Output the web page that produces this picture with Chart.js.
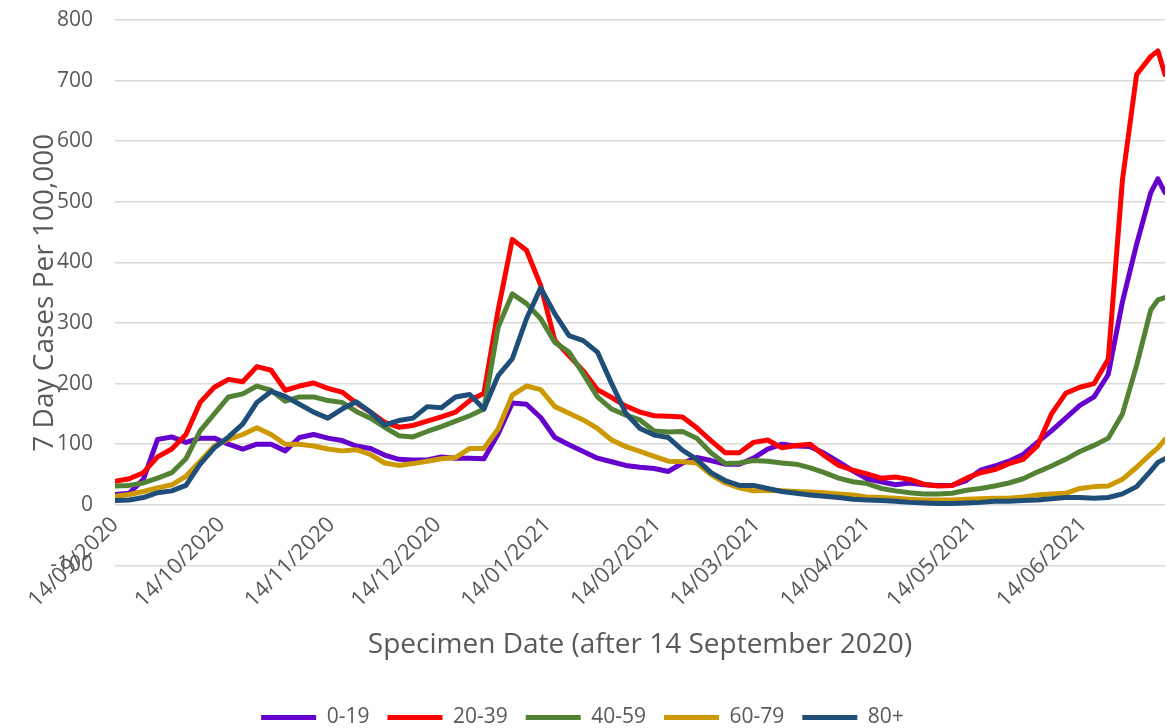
<!DOCTYPE html>
<html>
<head>
<meta charset="utf-8">
<script src="https://cdn.jsdelivr.net/npm/chart.js@4.4.1/dist/chart.umd.min.js"></script>
<style>
  html, body { margin: 0; padding: 0; background: #fff; }
  #wrap { width: 1167px; height: 728px; }
</style>
</head>
<body>
<div id="wrap"><canvas id="casesChart"></canvas></div>
<script>
const days = [0, 4, 8, 12, 16, 20, 24, 28, 32, 36,
  40, 44, 48, 52, 56, 60, 64, 68, 72, 76,
  80, 84, 88, 92, 96, 100, 104, 108, 112, 116,
  120, 124, 128, 132, 136, 140, 144, 148, 152, 156,
  160, 164, 168, 172, 176, 180, 184, 188, 192, 196,
  200, 204, 208, 212, 216, 220, 224, 228, 232, 236,
  240, 244, 248, 252, 256, 260, 264, 268, 272, 276,
  280, 284, 288, 292, 294, 296];

const tickDays = [0, 30, 61, 91, 122, 153, 181, 212, 242, 273];
const tickLabels = ['14/09/2020', '14/10/2020', '14/11/2020', '14/12/2020', '14/01/2021',
  '14/02/2021', '14/03/2021', '14/04/2021', '14/05/2021', '14/06/2021'];

const age0to19 = [17, 19, 42, 108, 112, 103, 110, 110, 100, 92,
  100, 100, 89, 111, 116, 110, 106, 97, 93, 82,
  75, 74, 74, 79, 77, 77, 76, 117, 168, 166,
  144, 111, 99, 88, 77, 71, 65, 62, 60, 55,
  69, 78, 73, 67, 67, 77, 92, 100, 97, 96,
  85, 71, 56, 43, 38, 33, 36, 33, 32, 32,
  40, 57, 64, 72, 83, 103, 122, 143, 164, 178,
  215, 335, 430, 515, 538, 515];

const age20to39 = [39, 43, 53, 79, 92, 116, 169, 194, 207, 203,
  228, 222, 189, 196, 201, 192, 186, 168, 153, 136,
  128, 131, 138, 145, 153, 172, 184, 321, 438, 420,
  362, 271, 246, 221, 190, 177, 163, 153, 147, 146,
  145, 127, 106, 86, 86, 103, 107, 94, 98, 100,
  81, 65, 57, 51, 44, 46, 42, 34, 31, 32,
  44, 53, 58, 68, 75, 97, 150, 184, 194, 200,
  240, 536, 710, 740, 749, 710];

const age40to59 = [31, 32, 36, 44, 53, 76, 122, 150, 178, 183,
  196, 189, 171, 178, 178, 172, 169, 154, 143, 128,
  114, 112, 121, 129, 138, 147, 158, 293, 348, 332,
  307, 268, 252, 216, 178, 158, 148, 140, 122, 120,
  121, 110, 86, 68, 69, 73, 72, 69, 67, 61,
  53, 44, 38, 35, 27, 23, 20, 18, 18, 19,
  24, 27, 31, 36, 43, 54, 64, 75, 88, 98,
  110, 150, 230, 322, 338, 342];

const age60to79 = [14, 17, 22, 28, 33, 47, 72, 97, 108, 116,
  127, 116, 100, 100, 97, 92, 89, 91, 83, 69,
  65, 68, 72, 76, 78, 93, 93, 125, 181, 196,
  190, 162, 151, 140, 126, 107, 96, 88, 80, 72,
  71, 69, 50, 36, 28, 23, 24, 23, 22, 21,
  20, 18, 16, 13, 12, 11, 9, 8, 8, 8,
  9, 10, 11, 11, 13, 16, 18, 19, 27, 30,
  31, 42, 62, 84, 94, 108];

const age80plus = [7, 8, 12, 20, 23, 32, 67, 94, 112, 133,
  169, 187, 179, 166, 153, 143, 158, 170, 153, 132,
  139, 143, 162, 160, 178, 182, 158, 213, 241, 307,
  358, 315, 279, 271, 252, 200, 151, 126, 115, 111,
  90, 75, 53, 40, 32, 32, 27, 22, 19, 16,
  14, 12, 9, 8, 7, 6, 4, 3, 2, 2,
  3, 4, 6, 6, 7, 8, 10, 12, 12, 11,
  12, 18, 30, 56, 70, 76];

const seriesNames = ['0-19', '20-39', '40-59', '60-79', '80+'];
const seriesColors = ['#6600CC', '#FF0000', '#548235', '#CC9900', '#1F4E79'];
const seriesValues = [age0to19, age20to39, age40to59, age60to79, age80plus];

Chart.defaults.font.family = '"Open Sans", sans-serif';
Chart.defaults.color = '#595959';

function toPoints(values) {
    return days.map((d, i) => ({ x: d, y: values[i] }));
}

const datasets = seriesNames.map((name, i) => ({
    label: name,
    data: toPoints(seriesValues[i]),
    borderColor: seriesColors[i],
    backgroundColor: seriesColors[i],
    borderWidth: 5,
    borderCapStyle: 'round',
    borderJoinStyle: 'round',
    pointRadius: 0,
    tension: 0,
    // later series sit on top, like the original
    order: seriesNames.length - i
}));

const ctx = document.getElementById('casesChart').getContext('2d');

const casesChart = new Chart(ctx, {
    type: 'line',
    data: { datasets: datasets },
    options: {
        responsive: true,
        maintainAspectRatio: false,
        animation: false,
        layout: {
            padding: { top: 20, right: 2, left: 0, bottom: -10 }
        },
        scales: {
            x: {
                type: 'linear',
                position: { y: 0 },
                min: 0,
                max: 296,
                grid: { display: false, drawTicks: false },
                border: { display: false },
                afterBuildTicks: (scale) => {
                    scale.ticks = tickDays.map(v => ({ value: v }));
                },
                ticks: {
                    autoSkip: false,
                    maxRotation: 45,
                    minRotation: 45,
                    padding: 7,
                    font: { size: 22 },
                    color: '#595959',
                    callback: (value) => tickLabels[tickDays.indexOf(value)]
                }
            },
            y: {
                min: -100,
                max: 800,
                afterFit: (scale) => { scale.width = 115; },
                ticks: {
                    stepSize: 100,
                    padding: 2,
                    font: { size: 21 },
                    color: '#595959'
                },
                grid: {
                    color: '#d9d9d9',
                    lineWidth: 1.5,
                    drawTicks: true,
                    tickLength: 20,
                    tickColor: 'rgba(0,0,0,0)'
                },
                border: { display: false },
                title: {
                    display: true,
                    text: '7 Day Cases Per 100,000',
                    font: { size: 28 },
                    color: '#595959',
                    padding: { top: 28, bottom: 0 }
                }
            }
        },
        plugins: {
            title: {
                display: true,
                position: 'bottom',
                text: 'Specimen Date (after 14 September 2020)',
                fullSize: false,
                weight: 500,
                font: { size: 28, weight: 'normal' },
                color: '#595959',
                padding: { top: 63, bottom: 27 }
            },
            legend: {
                position: 'bottom',
                weight: 1000,
                labels: {
                    usePointStyle: true,
                    pointStyle: 'line',
                    pointStyleWidth: 55,
                    padding: 18,
                    font: { size: 21 },
                    color: '#595959',
                    sort: (a, b) => a.datasetIndex - b.datasetIndex
                }
            },
            tooltip: { enabled: false }
        }
    }
});
</script>
</body>
</html>
